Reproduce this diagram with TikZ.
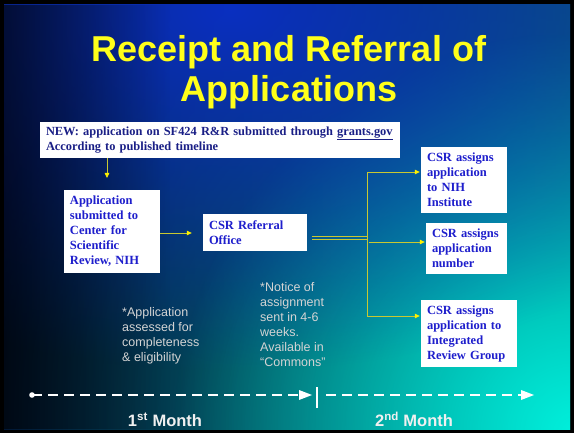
\documentclass[tikz,border=0pt]{standalone}
\usepackage{fontspec}
\setmainfont{Liberation Sans}
\newfontfamily\boxfont{Liberation Serif}
\usetikzlibrary{arrows.meta,fadings}

\definecolor{bgblue}{HTML}{0A2FC0}
\definecolor{bgdark}{HTML}{021030}
\definecolor{bgmid}{HTML}{0A4A5E}
\definecolor{bgteal}{HTML}{008A88}
\definecolor{bgcyan}{HTML}{00F0DC}
\definecolor{titleyellow}{HTML}{FFFF1A}
\definecolor{boxblue}{HTML}{1E1ECC}
\definecolor{newnavy}{HTML}{1A1F86}
\definecolor{linkyellow}{HTML}{C8C832}
\definecolor{notegray}{HTML}{D4D4D4}

\tikzfading[name=fade right, left color=transparent!0, right color=transparent!100]
\tikzfading[name=glow, inner color=transparent!0, outer color=transparent!100]

\tikzset{
    box/.style={fill=white, inner xsep=6pt, inner ysep=0pt, align=left,
        font=\boxfont\bfseries\fontsize{12.5}{15}\selectfont, text=boxblue},
    link/.style={draw=linkyellow, line width=0.8pt},
    tip/.style={-{Triangle[length=5pt,width=4.5pt,color=yellow]}},
    note/.style={anchor=north west, inner sep=0pt, align=left, text=notegray,
        font=\fontsize{12.5}{15}\selectfont},
    month/.style={anchor=base, inner sep=0pt, text=white!94!black,
        font=\bfseries\fontsize{16.5}{18}\selectfont},
    timeline/.style={draw=white, line width=2pt, dash pattern=on 10pt off 6pt}
}

\begin{document}
\begin{tikzpicture}[x=1pt, y=-1pt]
    \useasboundingbox (0,0) rectangle (574,433);
    % slide background
    \fill[black] (0,0) rectangle (574,433);
    \begin{scope}
    \clip (4,5) rectangle (570,429);
    \shade[left color=bgdark, right color=bgmid] (4,5) rectangle (570,429);
    \fill[bgteal, opacity=0.8, path fading=glow] (-40,-170) rectangle (1160,1030);
    \fill[bgcyan, path fading=glow] (174,33) rectangle (974,833);
    \fill[bgblue, path fading=glow] (-370,-350) rectangle (830,370);
    \fill[black, opacity=0.6, path fading=fade right] (4,5) rectangle (170,429);
    \end{scope}

    % title
    \node[anchor=base, text=titleyellow, font=\bfseries\fontsize{36}{40}\selectfont]
        (titleA) at (289,62) {Receipt and Referral of};
    \node[anchor=base, text=titleyellow, font=\bfseries\fontsize{36}{40}\selectfont]
        (titleB) at (289,102) {Applications};

    % boxes
    \node[box, text=newnavy, font=\boxfont\bfseries\fontsize{12.4}{15}\selectfont,
        text width=348pt, minimum height=36pt] (new) at (220,140)
        {NEW: application on SF424 R\&R submitted through \underline{grants.gov}\\
         According to published timeline};
    \node[box, text width=84pt, minimum height=83pt] (app) at (112,231.5)
        {Application\\ submitted to\\ Center for\\ Scientific\\ Review, NIH};
    \node[box, text width=92pt, minimum height=37pt] (ref) at (255,232.5)
        {CSR Referral\\ Office};
    \node[box, text width=74pt, minimum height=66pt] (inst) at (464,180)
        {CSR assigns\\ application\\ to NIH\\ Institute};
    \node[box, text width=69pt, minimum height=51pt] (num) at (466.5,248.5)
        {CSR assigns\\ application\\ number};
    \node[box, text width=84pt, minimum height=67pt] (irg) at (469,333.5)
        {CSR assigns\\ application to\\ Integrated\\ Review Group};

    % connectors
    \coordinate (nt) at (107,178);
    \draw[link, tip] (new.south -| nt) -- (nt);
    \draw[link, tip, shorten >=11pt] (app.east |- 0,233) -- (ref.west |- 0,233);
    \coordinate (split) at (367,238);
    \draw[link, shorten <=5pt] ([yshift=-1.5pt]ref.east |- split) -- ([yshift=-1.5pt]split);
    \draw[link, shorten <=5pt] ([yshift=1.5pt]ref.east |- split) -- ([yshift=1.5pt]split);
    \coordinate (b1) at (367,172);
    \coordinate (b2) at (369,242);
    \coordinate (b3) at (367,316);
    \draw[link] (b1) -- (b3);
    \draw[link, tip, shorten >=1pt] (b1) -- (b1 -| inst.west);
    \draw[link, tip, shorten >=1pt] (b2) -- (b2 -| num.west);
    \draw[link, tip, shorten >=1pt] (b3) -- (b3 -| irg.west);

    % notes
    \node[note] (assessed) at (122,307)
        {*Application\\ assessed for\\ completeness\\ \& eligibility};
    \node[note] (notice) at (260,282)
        {*Notice of\\ assignment\\ sent in 4-6\\ weeks.\\ Available in\\ “Commons”};

    % timeline
    \coordinate (start) at (32,395);
    \coordinate (mid) at (317,395);
    \coordinate (stop) at (534,395);
    \fill[white] (start) circle (2.8pt);
    \draw[timeline] (start) -- ([xshift=-19pt]mid);
    \fill[white] ([xshift=-18pt,yshift=-5pt]mid) -- ([xshift=-5pt]mid) -- ([xshift=-18pt,yshift=5pt]mid) -- cycle;
    \draw[white, line width=2pt] ([yshift=-13pt]mid) -- ([yshift=8pt]mid);
    \draw[timeline] ([xshift=9pt]mid) -- ([xshift=-12pt]stop);
    \fill[white] ([xshift=-13pt,yshift=-5pt]stop) -- (stop) -- ([xshift=-13pt,yshift=5pt]stop) -- cycle;

    \node[month] (first) at (165,427) {1\textsuperscript{st} Month};
    \node[month] (second) at (414,427) {2\textsuperscript{nd} Month};
\end{tikzpicture}
\end{document}
